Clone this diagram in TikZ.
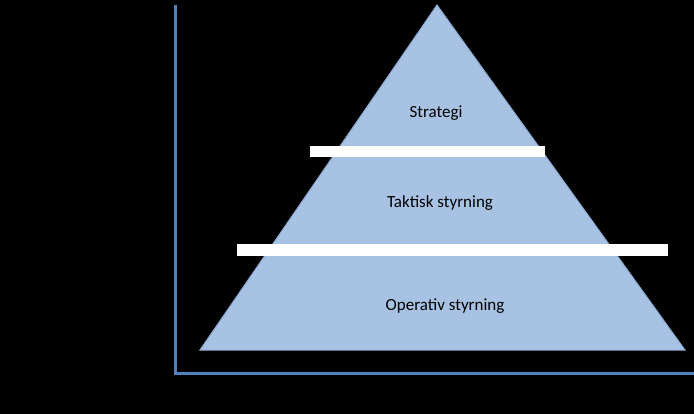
\documentclass[tikz,border=0pt]{standalone}
\usepackage{fontspec}
\setmainfont{Carlito}
\definecolor{axisblue}{RGB}{79,129,189}
\definecolor{pyrfill}{RGB}{167,194,226}
\definecolor{pyredge}{RGB}{140,170,210}
\tikzset{lbl/.style={font=\fontsize{17}{20}\selectfont, text=black},
 bar/.style={fill=white, draw=none},
 axis/.style={draw=axisblue, line width=3pt}}
\begin{document}
\begin{tikzpicture}[x=1pt,y=-1pt]
\fill[black] (0,0) rectangle (694,414);
\useasboundingbox (0,0) rectangle (694,414);
\coordinate (top) at (175,5);
\coordinate (origin) at (175,373);
\coordinate (right) at (694,373);
\draw[axis] (top) -- (origin) -- (right);
\filldraw[fill=pyrfill, draw=pyredge, line width=1pt] (437,5) -- (685,350) -- (200,350) -- cycle;
\fill[bar] (310,146) rectangle (545,157);
\fill[bar] (237,244) rectangle (668,256);
\node[lbl] (s) at (436,113) {Strategi};
\node[lbl] (t) at (440,203) {Taktisk styrning};
\node[lbl] (o) at (445,306) {Operativ styrning};
\end{tikzpicture}
\end{document}
